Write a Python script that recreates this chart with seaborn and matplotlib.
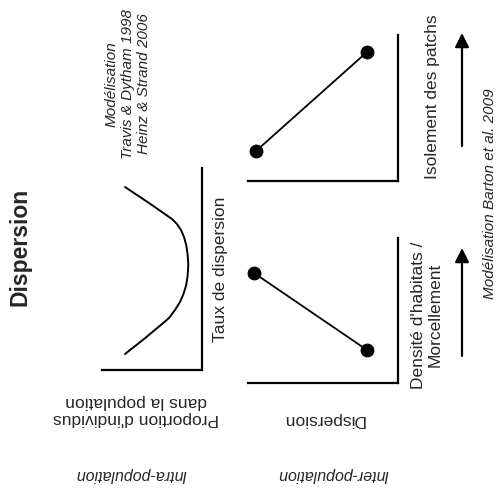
import numpy as np
import pandas as pd
import matplotlib
matplotlib.use('Agg')
import matplotlib.pyplot as plt
from matplotlib.patches import FancyArrowPatch
import seaborn as sns

sns.set_style('white')
plt.rcParams['font.family'] = ['Liberation Sans', 'DejaVu Sans']

# intra-population : distribution des taux de dispersion
intra_proportion = [23, 47, 70, 75, 79, 82, 84.2, 85.6, 86.3, 85.6, 84.2, 81.5,
                    78, 73, 67, 60, 42, 23]
intra_taux = [183, 167, 151, 146, 140, 133, 125, 116, 105, 94, 85, 76,
              68, 60, 52, 46, 31, 16]

# inter-population : dispersion selon l'isolement des patchs
isolement = [8, 119]
dispersion_isolement = [30, 129]

# inter-population : dispersion selon la densite d'habitats
densite = [6, 119]
dispersion_densite = [110, 33]

W, H = 498, 490
fig = plt.figure(figsize=(W / 100, H / 100), dpi=100)


def box(x0, y0, x1, y1):
    # pixel box (top-left origin) -> figure fraction
    return [x0 / W, 1 - y1 / H, (x1 - x0) / W, (y1 - y0) / H]


def fx(x):
    return x / W


def fy(y):
    return 1 - y / H


def style_axes(ax, xmax, ymax):
    ax.set_xlim(0, xmax)
    ax.set_ylim(0, ymax)
    ax.set_xticks([])
    ax.set_yticks([])
    ax.set_xlabel('')
    ax.set_ylabel('')
    ax.set_facecolor('none')
    for s in ['left', 'top']:
        ax.spines[s].set_visible(False)
    for s in ['right', 'bottom']:
        ax.spines[s].set_color('black')
        ax.spines[s].set_linewidth(1.6)


# panneau intra-population
ax1 = fig.add_axes(box(102, 168, 202, 370))
df1 = pd.DataFrame({'p': intra_proportion, 't': intra_taux})
sns.lineplot(data=df1, x='p', y='t', sort=False, estimator=None,
             color='black', linewidth=1.4, ax=ax1)
ax1.lines[0].set_solid_joinstyle('round')
style_axes(ax1, 100, 202)

# panneau isolement
ax2 = fig.add_axes(box(248, 35, 398, 181))
df2 = pd.DataFrame({'x': isolement, 'y': dispersion_isolement})
sns.lineplot(data=df2, x='x', y='y', color='black', linewidth=1.3, ax=ax2)
sns.scatterplot(data=df2, x='x', y='y', color='black', s=85, ax=ax2,
                clip_on=False, zorder=5, edgecolor='black')
style_axes(ax2, 150, 146)

# panneau densite
ax3 = fig.add_axes(box(248, 238, 398, 383))
df3 = pd.DataFrame({'x': densite, 'y': dispersion_densite})
sns.lineplot(data=df3, x='x', y='y', color='black', linewidth=1.3, ax=ax3)
sns.scatterplot(data=df3, x='x', y='y', color='black', s=85, ax=ax3,
                clip_on=False, zorder=5, edgecolor='black')
style_axes(ax3, 150, 145)

# textes
fig.text(fx(20), fy(247), 'Dispersion', rotation=90, ha='center', va='center',
         fontsize=16.5, fontweight='bold')
fig.text(fx(128), fy(84), 'Modélisation\nTravis & Dytham 1998\nHeinz & Strand 2006',
         rotation=90, ha='center', va='center', multialignment='center',
         fontsize=11, style='italic', linespacing=1.2)
fig.text(fx(220), fy(269), 'Taux de dispersion', rotation=90, ha='center',
         va='center', fontsize=12.5)
fig.text(fx(136), fy(410), "Proportion d'individus\ndans la population",
         rotation=180, ha='center', va='center', multialignment='center',
         fontsize=12.5, linespacing=1.1)
fig.text(fx(131), fy(474), 'Intra-population', rotation=180, ha='center',
         va='center', fontsize=11.5, style='italic')
fig.text(fx(323), fy(420), 'Dispersion', rotation=180, ha='center',
         va='center', fontsize=12.5)
fig.text(fx(333), fy(474), 'Inter-population', rotation=180, ha='center',
         va='center', fontsize=11.5, style='italic')
fig.text(fx(432), fy(97), 'Isolement des patchs', rotation=90, ha='center',
         va='center', fontsize=12.5)
fig.text(fx(427), fy(315), "Densité d'habitats /\nMorcellement", rotation=90,
         ha='center', va='center', multialignment='center', fontsize=12.5,
         linespacing=1.1)
fig.text(fx(490), fy(194), 'Modélisation Barton et al. 2009', rotation=90,
         ha='center', va='center', fontsize=11, style='italic')

# fleches
for y0, y1 in [(146, 33), (356, 248)]:
    arr = FancyArrowPatch((fx(462), fy(y0)), (fx(462), fy(y1)),
                          transform=fig.transFigure,
                          arrowstyle='-|>,head_length=0.6,head_width=0.3',
                          mutation_scale=14, color='black', lw=1.6,
                          shrinkA=0, shrinkB=0)
    fig.add_artist(arr)

fig.savefig('out.png', dpi=100, facecolor='white')
